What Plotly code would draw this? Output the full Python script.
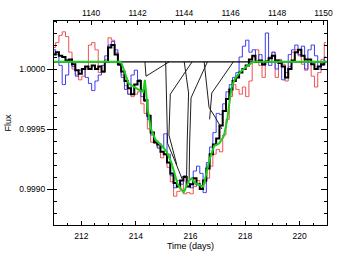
import plotly.graph_objects as go

# ---- data (flux offsets in units of 1e-5 relative to 1.0) ----
N_BINS = 84
time_days = [round(211.0 + 0.12 * i, 2) for i in range(N_BINS)]

red_d = [18, 22, 28, 31, 27, 14, 0, -5, -9, -6,
         0, 20, 22, 16, -3, -3, 8, 26, 24, 14,
         3, -5, -14, -21, -23, -21, -19, -29, -37, -50,
         -61, -62, -65, -74, -71, -82, -94, -106, -102, -93,
         -104, -103, -104, -98, -93, -99, -95, -91, -81, -71,
         -67, -69, -55, -42, -23, -13, -17, -21, -15, -23,
         -10, 10, 16, 3, -7, 7, 10, 14, -7, 8,
         4, -10, 2, 14, 16, 11, 4, -1, 6, -6,
         -15, -3, 8, 22]

blue_d = [16, 12, 3, -13, -5, 7, 2, -6, -1, 0,
          -7, -12, -18, -10, -5, 3, 11, 20, 23, 16,
          3, -7, -17, -21, -5, -1, -9, -23, -27, -42,
          -55, -60, -66, -65, -54, -71, -89, -99, -93, -96,
          -89, -95, -99, -85, -81, -87, -103, -78, -65, -53,
          -37, -38, -29, -19, -13, -7, -3, 10, 19, 24,
          14, 16, 6, 12, 3, 30, 3, 14, 0, 7,
          -9, -3, 12, 16, 20, 12, 19, 0, 16, 20,
          11, 0, 3, 10]

black_d = [12, 14, 11, 10, 7, 8, 4, -1, -4, 0,
           2, 0, 3, 0, 2, -2, 6, 18, 20, 12,
           4, -2, -10, -16, -21, -13, -10, -18, -26, -39,
           -53, -61, -63, -69, -71, -78, -87, -95, -98, -93,
           -90, -98, -96, -91, -96, -100, -93, -83, -71, -63,
           -58, -47, -35, -25, -17, -10, -7, -3, 0, 3,
           8, 11, 6, 7, 4, 6, 9, 11, 7, 5,
           2, -7, 0, 7, 14, 16, 11, 8, 8, 4,
           0, 2, 4, 6]

green_t = [211.0, 213.45, 213.55, 213.73, 214.08, 214.27, 214.33, 214.43, 214.55,
           214.72, 214.95, 215.13, 215.3, 215.53, 215.75, 215.94, 216.05, 216.15,
           216.47, 216.58, 216.7, 216.87, 217.05, 217.22, 217.34, 217.45, 217.51,
           217.63, 217.8, 218.05, 218.3, 221.0]
green_d = [6, 6, 0, -12, -17, -19, -9, -33, -50,
           -59, -64, -69, -78, -96, -103, -93, -91, -95,
           -98, -88, -75, -64, -62, -56, -43, -24, -15,
           -8, -3, 2, 6, 6]

baseline_d = 6
time_range = [211.0, 221.0]

thin_tracks_t = [
    [214.33, 214.37],
    [215.22, 214.37],
    [215.09, 215.13, 215.16, 215.40, 215.70],
    [216.06, 215.26, 215.21, 215.50],
    [215.77, 215.93, 215.88, 215.85],
    [216.62, 216.02, 215.97, 215.95],
    [216.50, 216.68, 216.90, 217.15],
    [217.57, 216.78, 216.70],
]
thin_tracks_d = [
    [6, -6],
    [6, -6],
    [6, -25, -62, -75, -92],
    [6, -21, -55, -80],
    [6, -20, -60, -98],
    [6, -24, -60, -92],
    [6, -32, -40, -50],
    [6, -20, -42],
]

x_ticks = [212, 214, 216, 218, 220]
top_ticks = [1140, 1142, 1144, 1146, 1148, 1150]
top_range = [1138.4, 1150.15]
y_ticks = [0.9990, 0.9995, 1.0000]
y_ticktext = ["0.9990", "0.9995", "1.0000"]
y_range = [0.9987, 1.0004]

SCALE = 1e-5


def to_flux(vals):
    return [1.0 + v * SCALE for v in vals]


FONT = "Liberation Sans, Arial, Helvetica, sans-serif"

fig = go.Figure()

fig.add_trace(go.Scatter(x=time_days, y=to_flux(red_d), mode="lines",
                         line=dict(color="rgb(240,80,80)", width=1, shape="hvh"),
                         hoverinfo="skip", showlegend=False))
fig.add_trace(go.Scatter(x=time_days, y=to_flux(blue_d), mode="lines",
                         line=dict(color="rgb(60,60,240)", width=1, shape="hvh"),
                         hoverinfo="skip", showlegend=False))
fig.add_trace(go.Scatter(x=time_days, y=to_flux(black_d), mode="lines",
                         line=dict(color="black", width=2, shape="hvh"),
                         hoverinfo="skip", showlegend=False))

tx, ty = [], []
for ts, ds in zip(thin_tracks_t, thin_tracks_d):
    tx += ts + [None]
    ty += to_flux(ds) + [None]
fig.add_trace(go.Scatter(x=tx, y=ty, mode="lines",
                         line=dict(color="rgb(30,30,30)", width=1),
                         hoverinfo="skip", showlegend=False))

fig.add_trace(go.Scatter(x=time_range, y=to_flux([baseline_d, baseline_d]), mode="lines",
                         line=dict(color="black", width=1.3),
                         hoverinfo="skip", showlegend=False))

fig.add_trace(go.Scatter(x=green_t, y=to_flux(green_d), mode="lines",
                         line=dict(color="rgb(30,205,30)", width=2),
                         hoverinfo="skip", showlegend=False))

# helper traces so the top and right axes are drawn
fig.add_trace(go.Scatter(x=top_range, y=[1.0, 1.0], xaxis="x2", yaxis="y",
                         mode="markers", marker=dict(opacity=0),
                         hoverinfo="skip", showlegend=False))
fig.add_trace(go.Scatter(x=time_range, y=[1.0, 1.0], xaxis="x", yaxis="y2",
                         mode="markers", marker=dict(opacity=0),
                         hoverinfo="skip", showlegend=False))

tickfont = dict(family=FONT, size=8.5, color="black")

fig.update_layout(
    width=340, height=257,
    margin=dict(l=45, r=7, t=21, b=24),
    paper_bgcolor="white", plot_bgcolor="white",
    font=dict(family=FONT, size=8.5, color="black"),
    xaxis=dict(range=time_range, tickmode="array", tickvals=x_ticks,
               ticks="inside", ticklen=4, tickwidth=1, tickcolor="black",
               showline=True, linecolor="black", linewidth=1, mirror=True,
               showgrid=False, zeroline=False, tickfont=tickfont,
               ticklabelstandoff=3,
               minor=dict(dtick=0.5, tick0=211, ticks="inside", ticklen=2,
                          tickcolor="black", showgrid=False),
               title=dict(text="Time (days)", font=dict(family=FONT, size=9), standoff=2)),
    xaxis2=dict(range=top_range, overlaying="x", side="top", tickmode="array",
                tickvals=top_ticks, ticks="inside", ticklen=4, tickwidth=1,
                tickcolor="black", showline=False, showgrid=False, zeroline=False,
                tickfont=tickfont, ticklabelstandoff=2,
                minor=dict(dtick=0.5, tick0=1138.0, ticks="inside", ticklen=2,
                           tickcolor="black", showgrid=False)),
    yaxis=dict(range=y_range, tickmode="array", tickvals=y_ticks, ticktext=y_ticktext,
               ticks="outside", ticklen=6, tickwidth=1, tickcolor="black",
               showline=True, linecolor="black", linewidth=1, mirror=True,
               showgrid=False, zeroline=False, tickfont=tickfont,
               minor=dict(dtick=0.0001, tick0=0.999, ticks="inside", ticklen=3,
                          tickcolor="black", showgrid=False),
               title=dict(text="Flux", font=dict(family=FONT, size=9), standoff=6)),
    yaxis2=dict(range=y_range, overlaying="y", side="right", tickmode="array",
                tickvals=y_ticks, showticklabels=False, ticks="inside", ticklen=6,
                tickcolor="black", showline=False, showgrid=False, zeroline=False,
                minor=dict(dtick=0.0001, tick0=0.999, ticks="inside", ticklen=3,
                           tickcolor="black", showgrid=False)),
)

fig.write_html("out.html")
